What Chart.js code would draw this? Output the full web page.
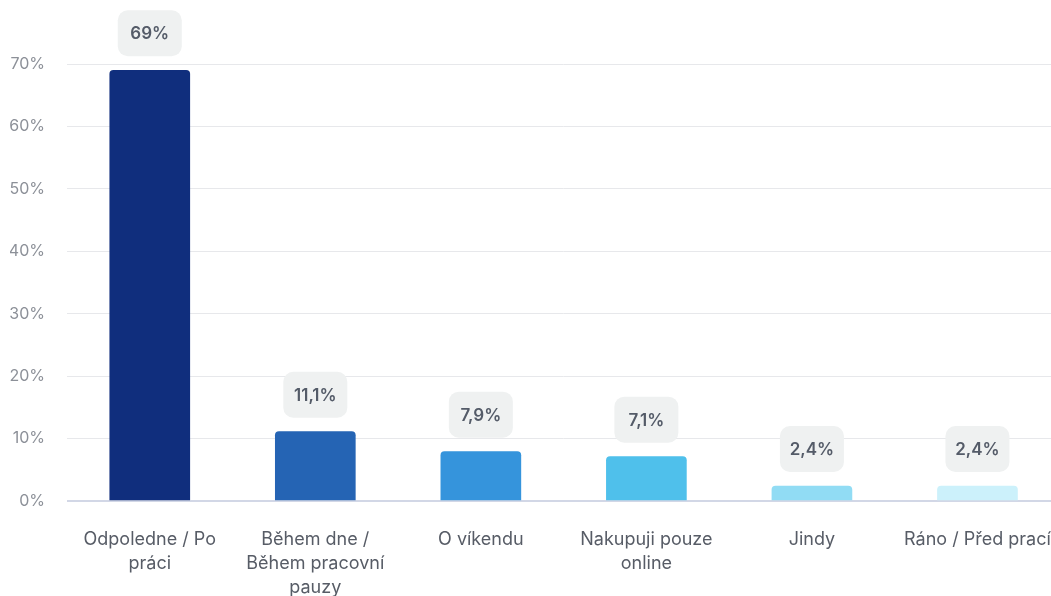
<!DOCTYPE html>
<html>
<head>
<meta charset="utf-8">
<script src="https://cdn.jsdelivr.net/npm/chart.js@4.4.1/dist/chart.umd.min.js"></script>
<style>
  html, body { margin: 0; padding: 0; background: #fff; overflow: hidden; }
  #wrap { width: 1077px; height: 596px; position: relative; }
</style>
</head>
<body>
<div id="wrap"><canvas id="bar-chart"></canvas></div>
<script>
const categories = [
    ['Odpoledne / Po', 'práci'],
    ['Během dne /', 'Během pracovní', 'pauzy'],
    'O víkendu',
    ['Nakupuji pouze', 'online'],
    'Jindy',
    'Ráno / Před prací'
];
const shares = [69, 11.1, 7.9, 7.1, 2.4, 2.4];
const shareLabels = ['69%', '11,1%', '7,9%', '7,1%', '2,4%', '2,4%'];
const yTicks = [0, 10, 20, 30, 40, 50, 60, 70];

const barColors = ['#102e7d', '#2564b4', '#3594dc', '#4fc0eb', '#91dcf4', '#ccf1fb'];

// grey rounded badge above every bar
const badgePlugin = {
    id: 'badges',
    afterDatasetsDraw(chart) {
        const ctx = chart.ctx;
        const meta = chart.getDatasetMeta(0);
        ctx.save();
        ctx.font = '600 17px Inter';
        ctx.textAlign = 'center';
        ctx.textBaseline = 'middle';
        meta.data.forEach(function(bar, i) {
            const w = 64, h = 46;
            const x = bar.x - w / 2;
            const y = bar.y - 14 - h;
            ctx.fillStyle = '#eff1f1';
            ctx.beginPath();
            ctx.roundRect(x, y, w, h, 10);
            ctx.fill();
            ctx.fillStyle = '#545b68';
            ctx.fillText(shareLabels[i], bar.x, y + h / 2 + 1);
        });
        ctx.restore();
    }
};

var ctx = document.getElementById('bar-chart').getContext('2d');
var chart = new Chart(ctx, {
    type: 'bar',
    data: {
        labels: categories,
        datasets: [{
            data: shares,
            backgroundColor: barColors,
            borderRadius: { topLeft: 4, topRight: 4 },
            borderSkipped: 'bottom',
            barThickness: 80
        }]
    },
    options: {
        responsive: true,
        maintainAspectRatio: false,
        animation: false,
        layout: { autoPadding: false, padding: { top: 64, left: 10, right: 2, bottom: 0 } },
        plugins: {
            legend: { display: false },
            tooltip: { enabled: false }
        },
        scales: {
            y: {
                min: 0,
                max: 70,
                afterBuildTicks: function(axis) {
                    axis.ticks = yTicks.map(function(v) { return { value: v }; });
                },
                afterFit: function(axis) { axis.width = 57; },
                border: { display: false },
                grid: {
                    drawTicks: false,
                    color: function(c) { return c.tick && c.tick.value === 0 ? '#d2d7e6' : '#e7e8eb'; },
                    lineWidth: function(c) { return c.tick && c.tick.value === 0 ? 2 : 1; }
                },
                ticks: {
                    padding: 22,
                    color: '#8c9098',
                    font: { family: 'Inter', size: 16 },
                    callback: function(v) { return v + '%'; }
                }
            },
            x: {
                afterFit: function(axis) { axis.height = 95; },
                border: { display: false },
                grid: { display: false, drawTicks: false },
                ticks: {
                    padding: 26,
                    color: '#575c66',
                    maxRotation: 0,
                    autoSkip: false,
                    font: { family: 'Inter', size: 18, lineHeight: 1.35 }
                }
            }
        }
    },
    plugins: [badgePlugin]
});
</script>
</body>
</html>
